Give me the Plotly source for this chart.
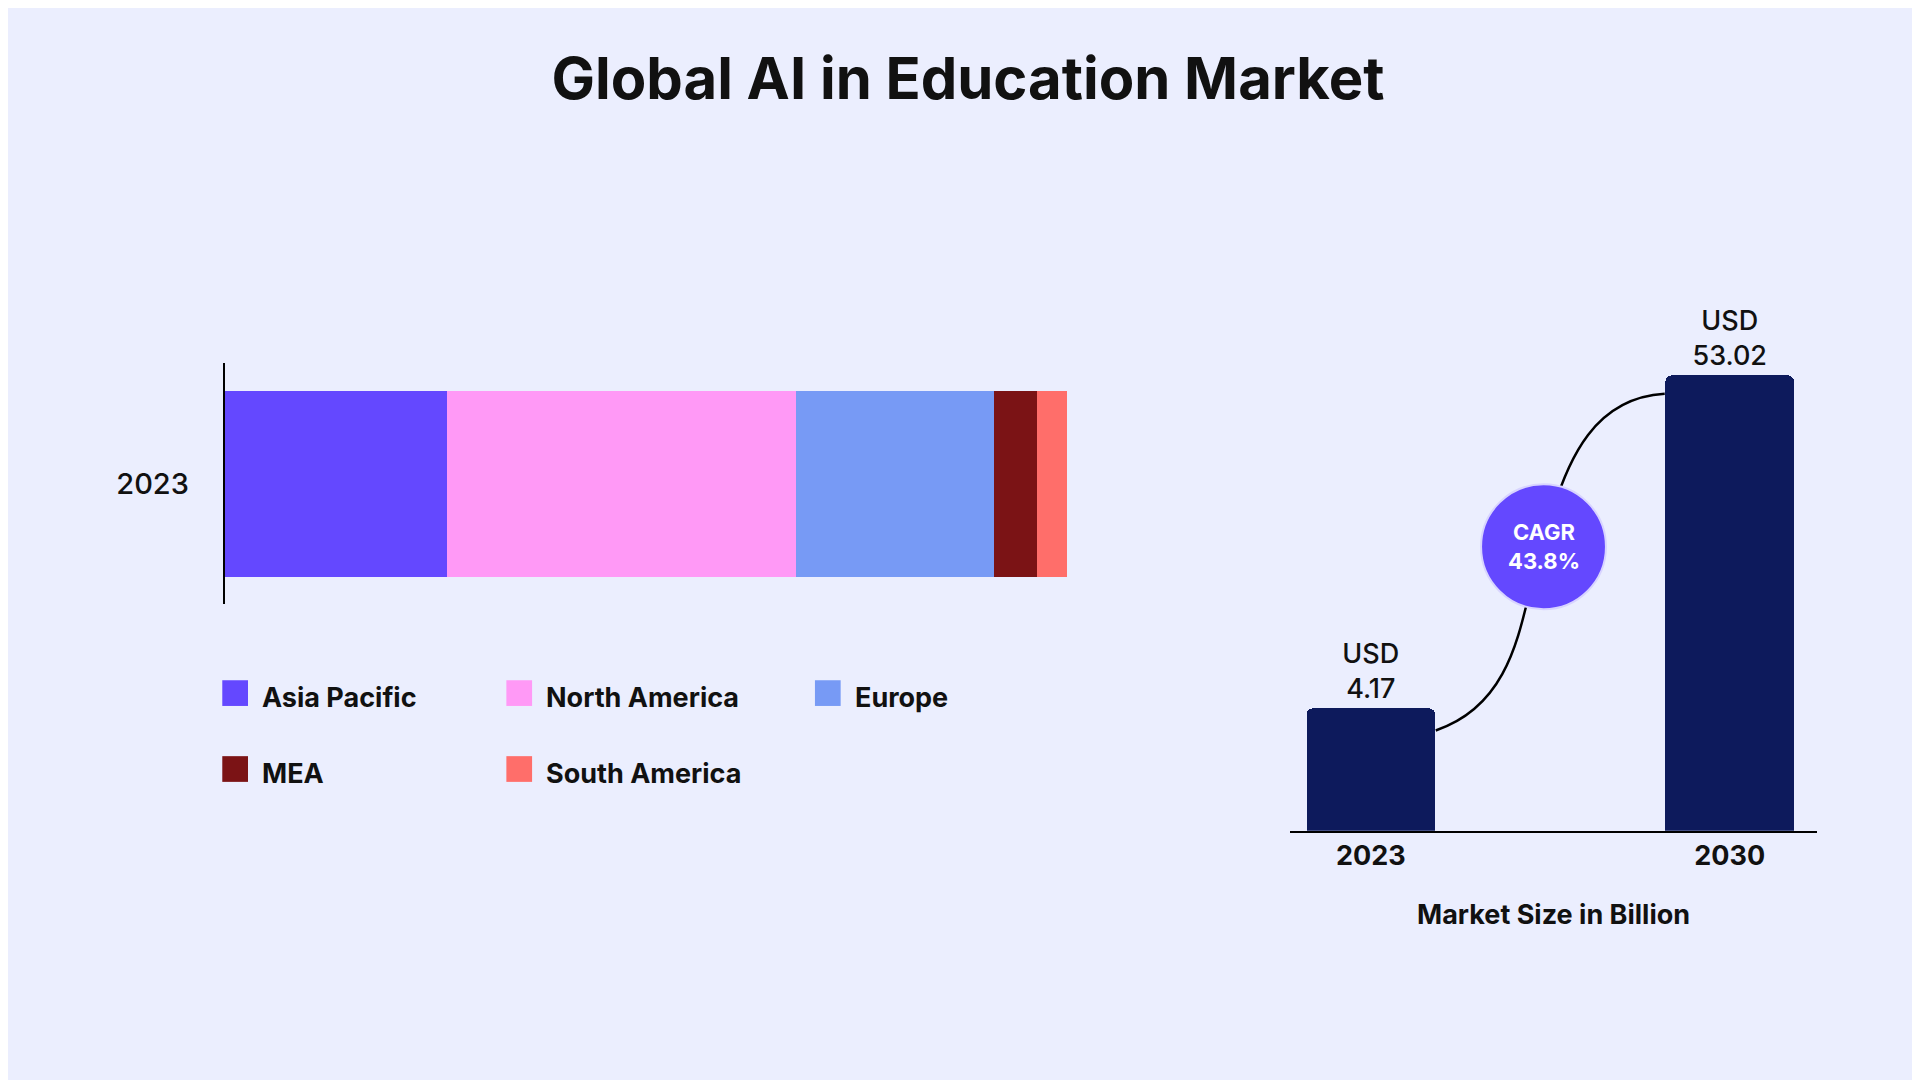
import plotly.graph_objects as go

# Regional split of the 2023 market (USD billion)
regions = ['Asia Pacific', 'North America', 'Europe', 'MEA', 'South America']
region_values = [1.10, 1.73, 0.98, 0.21, 0.15]
region_colors = ['#6448FF', '#FF99F6', '#779AF5', '#7B1315', '#FF6E6A']

# Market size (USD billion)
years = ['2023', '2030']
market_size = [4.17, 53.02]
cagr = '43.8%'

W, H = 1920, 1080
RW, RH = 1568, 882  # layout sketched on a 1568x882 grid

def px(x):
    return x / RW

def py(y):
    return 1 - y / RH

FONT = 'Inter'
fig = go.Figure()

for name, val, col in zip(regions, region_values, region_colors):
    fig.add_trace(go.Bar(y=['2023'], x=[val], orientation='h', name=name,
                         marker=dict(color=col, line_width=0, cornerradius=0), width=0.77,
                         showlegend=False, xaxis='x', yaxis='y'))

fig.add_trace(go.Bar(x=[0, 1], y=market_size, width=0.358,
                     marker=dict(color='#0D1A5C', line_width=0, cornerradius=6),
                     text=['USD<br>%.2f' % v for v in market_size],
                     textposition='outside', cliponaxis=False,
                     textfont=dict(size=27, color='#111111', family=FONT, weight=500),
                     showlegend=False, xaxis='x2', yaxis='y2'))

shapes = []
annotations = []

# legend grid
for i, (name, col) in enumerate(zip(regions, region_colors)):
    row, c = divmod(i, 3)
    x0 = 175 + c * 232 + (20 if c == 2 else 0)
    yc = 560 + row * 62
    shapes.append(dict(type='rect', xref='paper', yref='paper',
                       x0=px(x0), x1=px(x0 + 21), y0=py(yc - 11), y1=py(yc + 10),
                       fillcolor=col, line_width=0))
    annotations.append(dict(text='<b>%s</b>' % name, xref='paper', yref='paper',
                            x=px(x0 + 31), y=py(yc + 3), xanchor='left', yanchor='middle',
                            showarrow=False, font=dict(size=27, color='#111111', family=FONT)))

# connector curve
pts = [(1166, 590), (1240, 565), (1235, 480), (1254, 440),
       (1272, 360), (1300, 318), (1353, 315)]
p = ['%.5f,%.5f' % (px(x), py(y)) for x, y in pts]
path = 'M %s C %s %s %s C %s %s %s' % tuple(p)
shapes.append(dict(type='path', path=path, xref='paper', yref='paper',
                   line=dict(color='#000000', width=2.5)))
shapes.append(dict(type='circle', xref='paper', yref='paper',
                   x0=px(1203), x1=px(1305), y0=py(491), y1=py(389),
                   fillcolor='#6448FF', line=dict(color='#D8D4FF', width=2)))
annotations.append(dict(text='<b>CAGR<br>%s</b>' % cagr, xref='paper', yref='paper',
                        x=px(1254), y=py(440), xanchor='center', yanchor='middle',
                        showarrow=False, font=dict(size=22, color='white', family=FONT)))
annotations.append(dict(text='<b>Market Size in Billion</b>', xref='paper', yref='paper',
                        x=px(1262), y=py(740), xanchor='center', yanchor='middle',
                        showarrow=False, font=dict(size=27, color='#111111', family=FONT)))

fig.update_layout(
    width=W, height=H, barmode='stack',
    paper_bgcolor='#EBEEFE', plot_bgcolor='#EBEEFE',
    margin=dict(l=0, r=0, t=0, b=0),
    title=dict(text='<b>Global AI in Education Market</b>', x=0.5, xanchor='center',
               y=py(58), yanchor='middle', font=dict(size=58, color='#111111', family=FONT)),
    xaxis=dict(domain=[px(177), px(865)], range=[0, sum(region_values)], visible=False),
    yaxis=dict(domain=[py(487), py(290)], showline=True, linecolor='#000000', linewidth=2,
               tickfont=dict(size=29, color='#111111', family=FONT, weight=500), ticks='',
               ticklabelstandoff=28, showgrid=False),
    xaxis2=dict(domain=[px(1047), px(1477)], anchor='y2', range=[-0.225, 1.242],
                tickvals=[0, 1], ticktext=['<b>%s</b>' % y for y in years],
                tickfont=dict(size=27, color='#111111', family=FONT), showline=True,
                linecolor='#000000', linewidth=2, showgrid=False, zeroline=False),
    yaxis2=dict(domain=[py(672), py(200)], anchor='x2', type='log',
                range=[0.2137, 2.1306], visible=False),
    shapes=shapes, annotations=annotations,
    font=dict(family=FONT),
)

fig.write_html('out.html')
